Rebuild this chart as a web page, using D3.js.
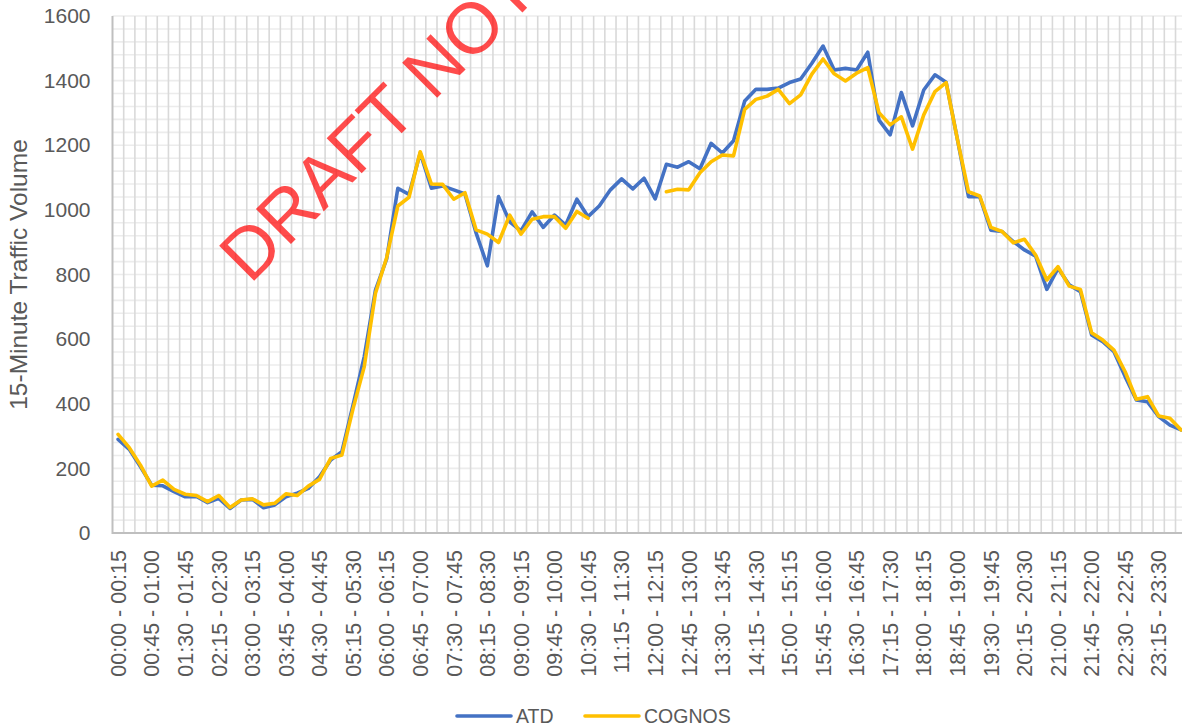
<!DOCTYPE html>
<html>
<head>
<meta charset="utf-8">
<script src="https://cdn.jsdelivr.net/npm/d3@7"></script>
<style>
  html, body { margin: 0; padding: 0; background: #fff; }
  svg { display: block; font-family: "Liberation Sans", Arial, sans-serif; }
</style>
</head>
<body>
<svg id="chart" width="1182" height="727"></svg>
<script>
const categories = [
"00:00 - 00:15","00:15 - 00:30","00:30 - 00:45","00:45 - 01:00","01:00 - 01:15","01:15 - 01:30",
"01:30 - 01:45","01:45 - 02:00","02:00 - 02:15","02:15 - 02:30","02:30 - 02:45","02:45 - 03:00",
"03:00 - 03:15","03:15 - 03:30","03:30 - 03:45","03:45 - 04:00","04:00 - 04:15","04:15 - 04:30",
"04:30 - 04:45","04:45 - 05:00","05:00 - 05:15","05:15 - 05:30","05:30 - 05:45","05:45 - 06:00",
"06:00 - 06:15","06:15 - 06:30","06:30 - 06:45","06:45 - 07:00","07:00 - 07:15","07:15 - 07:30",
"07:30 - 07:45","07:45 - 08:00","08:00 - 08:15","08:15 - 08:30","08:30 - 08:45","08:45 - 09:00",
"09:00 - 09:15","09:15 - 09:30","09:30 - 09:45","09:45 - 10:00","10:00 - 10:15","10:15 - 10:30",
"10:30 - 10:45","10:45 - 11:00","11:00 - 11:15","11:15 - 11:30","11:30 - 11:45","11:45 - 12:00",
"12:00 - 12:15","12:15 - 12:30","12:30 - 12:45","12:45 - 13:00","13:00 - 13:15","13:15 - 13:30",
"13:30 - 13:45","13:45 - 14:00","14:00 - 14:15","14:15 - 14:30","14:30 - 14:45","14:45 - 15:00",
"15:00 - 15:15","15:15 - 15:30","15:30 - 15:45","15:45 - 16:00","16:00 - 16:15","16:15 - 16:30",
"16:30 - 16:45","16:45 - 17:00","17:00 - 17:15","17:15 - 17:30","17:30 - 17:45","17:45 - 18:00",
"18:00 - 18:15","18:15 - 18:30","18:30 - 18:45","18:45 - 19:00","19:00 - 19:15","19:15 - 19:30",
"19:30 - 19:45","19:45 - 20:00","20:00 - 20:15","20:15 - 20:30","20:30 - 20:45","20:45 - 21:00",
"21:00 - 21:15","21:15 - 21:30","21:30 - 21:45","21:45 - 22:00","22:00 - 22:15","22:15 - 22:30",
"22:30 - 22:45","22:45 - 23:00","23:00 - 23:15","23:15 - 23:30","23:30 - 23:45","23:45 - 00:00"
];

const atd = [
290,259,205,148,146,128,112,113,94,107,76,102,
104,78,87,112,123,138,174,226,252,396,546,752,
848,1067,1048,1176,1067,1074,1062,1049,928,827,1041,963,
935,994,946,984,953,1033,979,1012,1062,1096,1065,1098,
1034,1141,1132,1149,1127,1206,1176,1214,1337,1373,1373,1377,
1394,1405,1454,1507,1433,1438,1433,1488,1278,1232,1363,1260,
1371,1418,1395,1220,1041,1041,937,933,902,876,857,754,
819,768,747,613,592,561,484,412,406,360,334,319
];

const cognos = [
305,264,210,145,164,135,120,116,97,116,79,102,
106,87,92,121,116,145,166,231,241,385,515,742,
852,1012,1039,1180,1080,1079,1033,1053,938,925,899,984,
925,971,979,979,943,995,974,null,null,null,null,null,
null,1056,1064,1062,1115,1149,1170,1167,1311,1342,1352,1373,
1329,1356,1420,1467,1421,1399,1423,1440,1301,1263,1288,1188,
1294,1366,1394,1220,1056,1043,946,933,898,909,860,783,
824,764,754,620,597,566,499,414,422,362,355,319
];

const yTickValues = [0,200,400,600,800,1000,1200,1400,1600];
const seriesNames = ["ATD","COGNOS"];
const seriesColors = ["#4472C4","#FFC000"];
const watermarkText = "DRAFT NOT FOR DISTRIBUTION";

const svg = d3.select("#chart");
const pLeft = 112.5, pRight = 1186.7, pTop = 16, pBottom = 533;

const x = d3.scaleBand().domain(categories).range([pLeft, pRight]).padding(0);
const y = d3.scaleLinear().domain([0, 1600]).range([pBottom, pTop]);

// horizontal gridlines (every 40)
const gridG = svg.append("g");
gridG.selectAll("line.h").data(d3.range(40, 1601, 40)).join("line")
  .attr("class", "h")
  .attr("x1", pLeft).attr("x2", pRight)
  .attr("y1", d => y(d)).attr("y2", d => y(d))
  .attr("stroke", "#ececec").attr("stroke-width", 1.6);

// vertical gridlines at category boundaries
gridG.selectAll("line.v").data(categories.slice(1)).join("line")
  .attr("class", "v")
  .attr("x1", d => x(d)).attr("x2", d => x(d))
  .attr("y1", pTop).attr("y2", pBottom)
  .attr("stroke", "#d9d9d9").attr("stroke-width", 1.6);

// axis lines
svg.append("line").attr("x1", pLeft).attr("x2", pLeft).attr("y1", pTop).attr("y2", pBottom + 1)
  .attr("stroke", "#bfbfbf").attr("stroke-width", 2);
svg.append("line").attr("x1", pLeft).attr("x2", pRight).attr("y1", pBottom).attr("y2", pBottom)
  .attr("stroke", "#bfbfbf").attr("stroke-width", 2);

// y axis
const yAxis = svg.append("g").attr("transform", `translate(${pLeft},0)`)
  .call(d3.axisLeft(y).tickValues(yTickValues).tickSize(0).tickPadding(22).tickFormat(d3.format("d")));
yAxis.select(".domain").remove();
yAxis.selectAll("text").attr("fill", "#595959").style("font-size", "21px")
  .style("font-family", "'Liberation Sans', Arial, sans-serif");

// x axis
const xTickValues = categories.filter((d, i) => i % 3 === 0);
const xAxis = svg.append("g").attr("transform", `translate(0,${pBottom})`)
  .call(d3.axisBottom(x).tickValues(xTickValues).tickSize(0));
xAxis.select(".domain").remove();
xAxis.selectAll("text")
  .attr("fill", "#595959").style("font-size", "21.5px")
  .style("font-family", "'Liberation Sans', Arial, sans-serif")
  .attr("text-anchor", "end")
  .attr("transform", "rotate(-90)")
  .attr("x", -17).attr("y", 0).attr("dy", "0.36em");

// y axis title
svg.append("text")
  .attr("transform", `translate(27,${(pTop + pBottom) / 2}) rotate(-90)`)
  .attr("text-anchor", "middle")
  .attr("fill", "#595959").style("font-size", "24.5px")
  .text("15-Minute Traffic Volume");

// lines
const line = d3.line()
  .defined(d => d != null)
  .x((d, i) => x(categories[i]) + x.bandwidth() / 2)
  .y(d => y(d));

[atd, cognos].forEach((s, k) => {
  svg.append("path")
    .datum(s)
    .attr("fill", "none")
    .attr("stroke", seriesColors[k])
    .attr("stroke-width", 3.6)
    .attr("stroke-linejoin", "round")
    .attr("stroke-linecap", "round")
    .attr("d", line);
});

// watermark
svg.append("text")
  .attr("transform", "translate(250,285) rotate(-45)")
  .attr("fill", "#FF0000").attr("fill-opacity", 0.7)
  .style("font-size", "72px")
  .text(watermarkText);

// legend
const legend = svg.append("g");
const legendItems = [
  {name: seriesNames[0], color: seriesColors[0], x: 457},
  {name: seriesNames[1], color: seriesColors[1], x: 585}
];
legendItems.forEach(it => {
  legend.append("line").attr("x1", it.x).attr("x2", it.x + 54)
    .attr("y1", 716).attr("y2", 716)
    .attr("stroke", it.color).attr("stroke-width", 3.6).attr("stroke-linecap", "round");
  legend.append("text").attr("x", it.x + 59).attr("y", 716).attr("dy", "0.36em")
    .attr("fill", "#595959").style("font-size", "19.5px").text(it.name);
});
</script>
</body>
</html>
